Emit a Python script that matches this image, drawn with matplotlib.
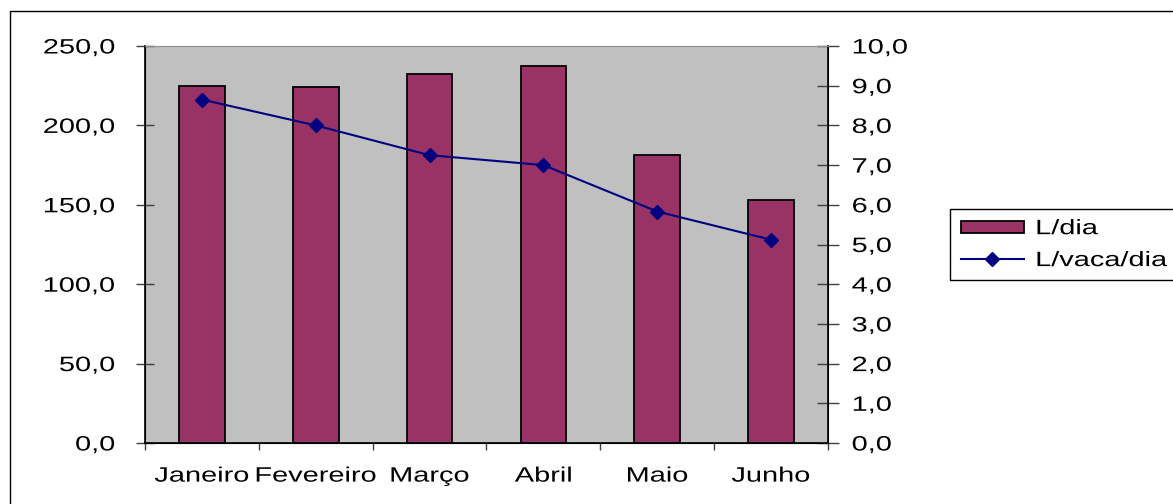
import matplotlib
matplotlib.use("Agg")
import matplotlib.pyplot as plt
from matplotlib.patches import Rectangle
from matplotlib.ticker import FuncFormatter, MultipleLocator, FixedLocator
from matplotlib.patheffects import AbstractPathEffect
from matplotlib.transforms import Affine2D

categories = ["Janeiro", "Fevereiro", "Março", "Abril", "Maio", "Junho"]
l_dia = [225.0, 223.9, 232.3, 237.6, 181.2, 153.1]
l_vaca_dia = [8.65, 8.0, 7.25, 7.0, 5.83, 5.12]

plt.rcParams['font.family'] = ['Liberation Sans', 'DejaVu Sans']
FS = 15
SX = 1.39  # the reference text is drawn horizontally widened


class HStretch(AbstractPathEffect):
    """Widen text glyphs horizontally around an anchor (0 left, 0.5 centre, 1 right)."""

    def __init__(self, sx=SX, anchor=0.0):
        super().__init__(offset=(0, 0))
        self.sx = sx
        self.anchor = anchor

    def draw_path(self, renderer, gc, tpath, affine, rgbFace=None):
        if len(tpath.vertices) == 0:
            return
        ext = tpath.get_extents()
        a = 0.0 if self.anchor == 0 else ext.x0 + self.anchor * (ext.x1 - ext.x0)
        t = Affine2D().translate(-a, 0).scale(self.sx, 1).translate(a, 0) + affine
        renderer.draw_path(gc, tpath, t, rgbFace)


W, H = 1173, 504
fig = plt.figure(figsize=(W / 100, H / 100), dpi=100)
fig.patch.set_facecolor("white")

# outer chart border
fig.patches.append(Rectangle((10 / W, -0.1), 1.2, 1 - 11 / H + 0.1, transform=fig.transFigure,
                             fill=False, edgecolor="black", linewidth=1.0))
# legend frame (extends past the right edge like the reference)
fig.patches.append(Rectangle((950 / W, 1 - 280 / H), 1.0, 71 / H, transform=fig.transFigure,
                             fill=False, edgecolor="black", linewidth=1.0))

ax = fig.add_axes([145 / W, (H - 443) / H, (828 - 145) / W, (443 - 46) / H])
ax.set_facecolor("#C0C0C0")
x = list(range(len(categories)))
bars = ax.bar(x, l_dia, width=0.4, color="#993366", edgecolor="black", linewidth=1.3,
              label="L/dia", zorder=2)
ax.set_xlim(-0.5, len(categories) - 0.5)
ax.set_ylim(0, 250)
ax.yaxis.set_major_locator(MultipleLocator(50))
fmt1 = FuncFormatter(lambda v, p: f"{v:.1f}".replace(".", ","))
ax.yaxis.set_major_formatter(fmt1)
ax.set_xticks(x)
ax.set_xticklabels(categories)
ax.xaxis.set_minor_locator(FixedLocator([i - 0.5 for i in range(len(categories) + 1)]))
ax.tick_params(axis="x", which="major", length=0, pad=17, labelsize=FS)
ax.tick_params(axis="x", which="minor", direction="out", length=5, color="#404040", width=1)
ax.tick_params(axis="y", direction="inout", length=13, width=1, color="#404040", pad=15,
               labelsize=FS)
for s in ["left", "bottom"]:
    ax.spines[s].set_color("black")
    ax.spines[s].set_linewidth(1.2)
ax.spines["top"].set_color("#909090")
ax.spines["right"].set_color("black")

ax2 = ax.twinx()
line, = ax2.plot(x, l_vaca_dia, color="#000080", linewidth=1.5, marker="D", markersize=7,
                 markerfacecolor="#000080", markeredgecolor="#000080", label="L/vaca/dia",
                 zorder=3)
ax2.set_ylim(0, 10)
ax2.yaxis.set_major_locator(MultipleLocator(1))
ax2.yaxis.set_major_formatter(fmt1)
ax2.tick_params(axis="y", direction="inout", length=16, width=1, color="#404040", pad=9,
                labelsize=FS)
ax2.spines["right"].set_color("black")
ax2.spines["right"].set_linewidth(1.2)
ax2.spines["top"].set_color("#909090")

leg = fig.legend([bars, line], ["L/dia", "L/vaca/dia"], loc="upper left",
                 bbox_to_anchor=(957 / W, 1 - 215 / H), fontsize=FS, frameon=False,
                 handlelength=3.0, handleheight=0.5, borderpad=0.2, labelspacing=0.62,
                 handletextpad=0.55, borderaxespad=0)

fig.canvas.draw()
for lbl in ax.get_yticklabels():
    lbl.set_path_effects([HStretch(SX, 1.0)])
for lbl in ax.get_xticklabels():
    lbl.set_path_effects([HStretch(SX, 0.5)])
for lbl in ax2.get_yticklabels():
    lbl.set_path_effects([HStretch(SX, 0.0)])
for t in leg.get_texts():
    t.set_path_effects([HStretch(SX, 0.0)])

fig.savefig("out.png", dpi=100, facecolor="white")
